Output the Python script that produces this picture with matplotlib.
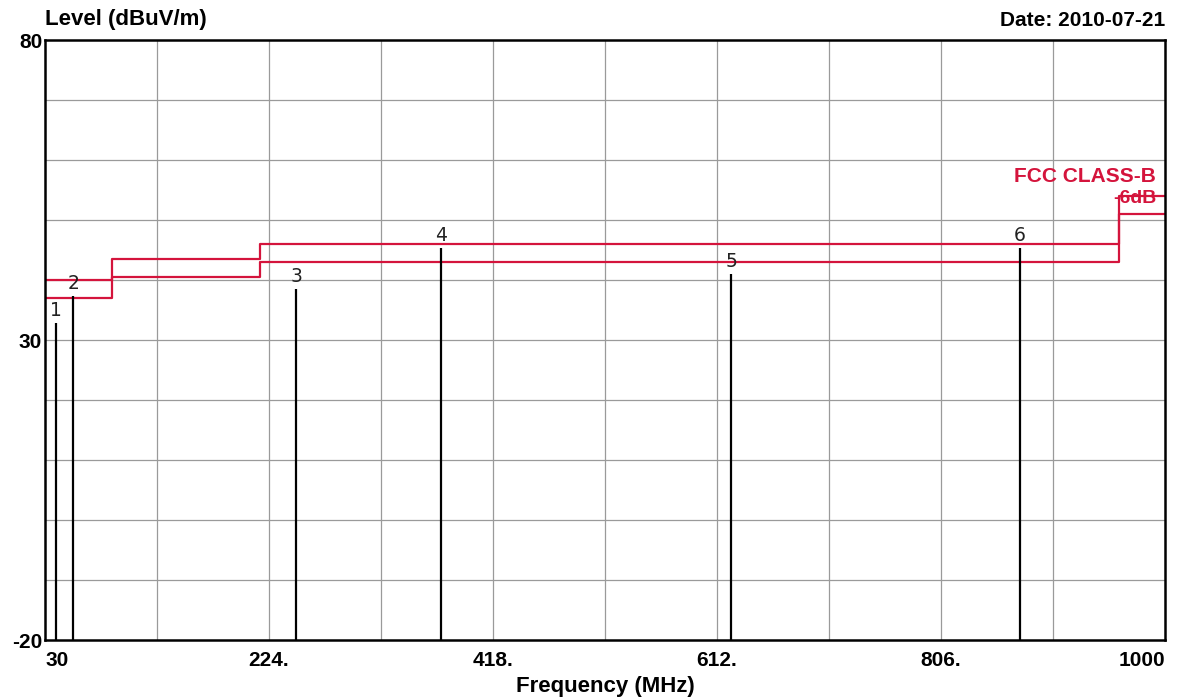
import matplotlib.pyplot as plt

plt.rcParams['font.family'] = ['Liberation Sans', 'DejaVu Sans']

# limit lines (FCC class B and the margin line), step edges in MHz
limit_freq = [30, 88, 88, 216, 216, 960, 960, 1000]
limit_level = [40, 40, 43.5, 43.5, 46, 46, 54, 54]
margin_level = [37, 37, 40.5, 40.5, 43, 43, 51, 51]

# measured peaks
peak_freq = [39.5, 54.5, 247.5, 372.7, 624.2, 874.4]
peak_level = [32.8, 37.3, 38.5, 45.3, 41.0, 45.3]
peak_label = ['1', '2', '3', '4', '5', '6']

x_ticks = [30, 224, 418, 612, 806, 1000]
x_tick_labels = ['30', '224.', '418.', '612.', '806.', '1000']
y_ticks = [-20, 30, 80]

red = '#d4143c'

fig = plt.figure(figsize=(11.98, 7.0), dpi=100)
ax = fig.add_axes([45 / 1198, 60 / 700, 1120 / 1198, 600 / 700])

ax.set_xlim(30, 1000)
ax.set_ylim(-20, 80)

# grid
for gx in range(30 + 97, 1000, 97):
    ax.axvline(gx, color='#9a9a9a', linewidth=0.9, zorder=0)
for gy in range(-10, 80, 10):
    ax.axhline(gy, color='#9a9a9a', linewidth=0.9, zorder=0)

ax.plot(limit_freq, limit_level, color=red, linewidth=1.6)
ax.plot(limit_freq, margin_level, color=red, linewidth=1.6)

ax.vlines(peak_freq, -20, peak_level, color='black', linewidth=1.6)
for f, lv, lb in zip(peak_freq, peak_level, peak_label):
    ax.annotate(lb, (f, lv), xytext=(0, 2), textcoords='offset points',
                ha='center', va='bottom', fontsize=13.5, color='#222222',
                family='DejaVu Sans')

ax.text(0.992, 55.6, 'FCC CLASS-B', color=red, fontsize=15, fontweight='bold',
        ha='right', va='bottom', transform=ax.get_yaxis_transform())
ax.text(0.992, 55.0, '-6dB', color=red, fontsize=14, fontweight='bold',
        ha='right', va='top', transform=ax.get_yaxis_transform())

for s in ax.spines.values():
    s.set_linewidth(1.8)
    s.set_color('black')

ax.set_xticks(x_ticks)
ax.set_xticklabels(x_tick_labels, fontsize=15, fontweight='bold')
ax.set_yticks(y_ticks)
ax.set_yticklabels([str(v) for v in y_ticks], fontsize=15, fontweight='bold')
ax.tick_params(axis='x', length=0, pad=8)
ax.tick_params(axis='y', length=0, pad=2)
labels = ax.get_xticklabels()
labels[0].set_ha('left')
labels[-1].set_ha('right')

fig.text(45 / 1198, 1 - 20 / 700, 'Level (dBuV/m)', fontsize=16, fontweight='bold',
         ha='left', va='center')
fig.text(1165 / 1198, 1 - 20 / 700, 'Date: 2010-07-21', fontsize=15, fontweight='bold',
         ha='right', va='center')
ax.set_xlabel('Frequency (MHz)', fontsize=16, fontweight='bold', labelpad=4)

fig.savefig('out.png', dpi=100)
